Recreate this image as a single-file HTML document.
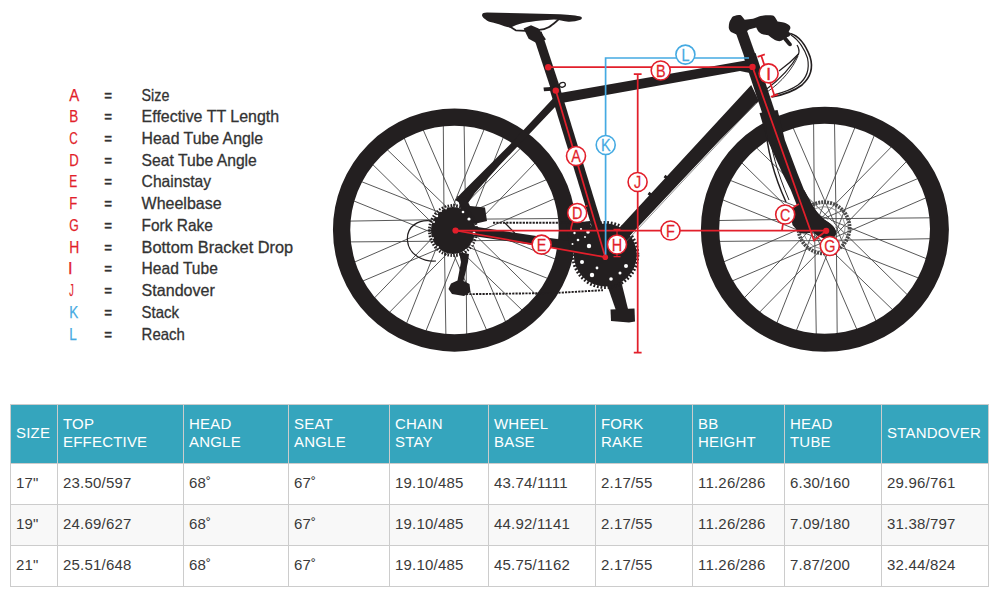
<!DOCTYPE html>
<html lang="en"><head><meta charset="utf-8"><title>Geometry</title>
<style>
html,body{margin:0;padding:0;background:#fff;}
body{width:1002px;height:602px;position:relative;overflow:hidden;font-family:"Liberation Sans",sans-serif;}
table{position:absolute;left:10px;top:404px;width:979px;border-collapse:separate;border-spacing:0;table-layout:fixed;
 border-left:1px solid #ccc;border-top:1px solid #ccc;font-size:15px;line-height:18px;color:#3a3a3a;letter-spacing:0.2px;}
th,td{box-sizing:border-box;border-right:1px solid #ccc;border-bottom:1px solid #ccc;padding:10px 5px 12px 5px;text-align:left;vertical-align:middle;font-weight:normal;white-space:nowrap;overflow:hidden;}
th{background:#35a5bd;color:#fff;}
tr:nth-child(2) td{background:#f8f8f8;}
</style></head><body>
<svg width="1002" height="396" viewBox="0 0 1002 396" style="position:absolute;left:0;top:0" font-family="'Liberation Sans', sans-serif">
<g id="legend">
<text x="69.2" y="100.50" fill="#e21f2b" stroke="#e21f2b" stroke-width="0.25" font-size="16.5" textLength="10" lengthAdjust="spacingAndGlyphs">A</text>
<text x="104.3" y="100.50" fill="#333333" stroke="#333333" stroke-width="0.4" font-size="16.5" textLength="7.8" lengthAdjust="spacingAndGlyphs">=</text>
<text x="141.6" y="100.50" fill="#333333" stroke="#333333" stroke-width="0.3" font-size="16.5" textLength="27.75" lengthAdjust="spacingAndGlyphs">Size</text>
<text x="69.2" y="122.24" fill="#e21f2b" stroke="#e21f2b" stroke-width="0.25" font-size="16.5" textLength="9" lengthAdjust="spacingAndGlyphs">B</text>
<text x="104.3" y="122.24" fill="#333333" stroke="#333333" stroke-width="0.4" font-size="16.5" textLength="7.8" lengthAdjust="spacingAndGlyphs">=</text>
<text x="141.6" y="122.24" fill="#333333" stroke="#333333" stroke-width="0.3" font-size="16.5" textLength="137.5" lengthAdjust="spacingAndGlyphs">Effective TT Length</text>
<text x="69.2" y="143.98" fill="#e21f2b" stroke="#e21f2b" stroke-width="0.25" font-size="16.5" textLength="8.5" lengthAdjust="spacingAndGlyphs">C</text>
<text x="104.3" y="143.98" fill="#333333" stroke="#333333" stroke-width="0.4" font-size="16.5" textLength="7.8" lengthAdjust="spacingAndGlyphs">=</text>
<text x="141.6" y="143.98" fill="#333333" stroke="#333333" stroke-width="0.3" font-size="16.5" textLength="121.5" lengthAdjust="spacingAndGlyphs">Head Tube Angle</text>
<text x="69.2" y="165.72" fill="#e21f2b" stroke="#e21f2b" stroke-width="0.25" font-size="16.5" textLength="9.5" lengthAdjust="spacingAndGlyphs">D</text>
<text x="104.3" y="165.72" fill="#333333" stroke="#333333" stroke-width="0.4" font-size="16.5" textLength="7.8" lengthAdjust="spacingAndGlyphs">=</text>
<text x="141.6" y="165.72" fill="#333333" stroke="#333333" stroke-width="0.3" font-size="16.5" textLength="115.25" lengthAdjust="spacingAndGlyphs">Seat Tube Angle</text>
<text x="69.2" y="187.46" fill="#e21f2b" stroke="#e21f2b" stroke-width="0.25" font-size="16.5" textLength="8" lengthAdjust="spacingAndGlyphs">E</text>
<text x="104.3" y="187.46" fill="#333333" stroke="#333333" stroke-width="0.4" font-size="16.5" textLength="7.8" lengthAdjust="spacingAndGlyphs">=</text>
<text x="141.6" y="187.46" fill="#333333" stroke="#333333" stroke-width="0.3" font-size="16.5" textLength="69.5" lengthAdjust="spacingAndGlyphs">Chainstay</text>
<text x="69.2" y="209.20" fill="#e21f2b" stroke="#e21f2b" stroke-width="0.25" font-size="16.5" textLength="8" lengthAdjust="spacingAndGlyphs">F</text>
<text x="104.3" y="209.20" fill="#333333" stroke="#333333" stroke-width="0.4" font-size="16.5" textLength="7.8" lengthAdjust="spacingAndGlyphs">=</text>
<text x="141.6" y="209.20" fill="#333333" stroke="#333333" stroke-width="0.3" font-size="16.5" textLength="80" lengthAdjust="spacingAndGlyphs">Wheelbase</text>
<text x="69.2" y="230.94" fill="#e21f2b" stroke="#e21f2b" stroke-width="0.25" font-size="16.5" textLength="9.5" lengthAdjust="spacingAndGlyphs">G</text>
<text x="104.3" y="230.94" fill="#333333" stroke="#333333" stroke-width="0.4" font-size="16.5" textLength="7.8" lengthAdjust="spacingAndGlyphs">=</text>
<text x="141.6" y="230.94" fill="#333333" stroke="#333333" stroke-width="0.3" font-size="16.5" textLength="71.25" lengthAdjust="spacingAndGlyphs">Fork Rake</text>
<text x="69.2" y="252.68" fill="#e21f2b" stroke="#e21f2b" stroke-width="0.25" font-size="16.5" textLength="10" lengthAdjust="spacingAndGlyphs">H</text>
<text x="104.3" y="252.68" fill="#333333" stroke="#333333" stroke-width="0.4" font-size="16.5" textLength="7.8" lengthAdjust="spacingAndGlyphs">=</text>
<text x="141.6" y="252.68" fill="#333333" stroke="#333333" stroke-width="0.3" font-size="16.5" textLength="151.5" lengthAdjust="spacingAndGlyphs">Bottom Bracket Drop</text>
<text x="67.9" y="274.42" fill="#e21f2b" stroke="#e21f2b" stroke-width="0.25" font-size="16.5">I</text>
<text x="104.3" y="274.42" fill="#333333" stroke="#333333" stroke-width="0.4" font-size="16.5" textLength="7.8" lengthAdjust="spacingAndGlyphs">=</text>
<text x="141.6" y="274.42" fill="#333333" stroke="#333333" stroke-width="0.3" font-size="16.5" textLength="76.25" lengthAdjust="spacingAndGlyphs">Head Tube</text>
<text x="69.2" y="296.16" fill="#e21f2b" stroke="#e21f2b" stroke-width="0.25" font-size="16.5" textLength="4.5" lengthAdjust="spacingAndGlyphs">J</text>
<text x="104.3" y="296.16" fill="#333333" stroke="#333333" stroke-width="0.4" font-size="16.5" textLength="7.8" lengthAdjust="spacingAndGlyphs">=</text>
<text x="141.6" y="296.16" fill="#333333" stroke="#333333" stroke-width="0.3" font-size="16.5" textLength="73.25" lengthAdjust="spacingAndGlyphs">Standover</text>
<text x="69.2" y="317.90" fill="#45aae2" stroke="#45aae2" stroke-width="0.25" font-size="16.5" textLength="9" lengthAdjust="spacingAndGlyphs">K</text>
<text x="104.3" y="317.90" fill="#333333" stroke="#333333" stroke-width="0.4" font-size="16.5" textLength="7.8" lengthAdjust="spacingAndGlyphs">=</text>
<text x="141.6" y="317.90" fill="#333333" stroke="#333333" stroke-width="0.3" font-size="16.5" textLength="37.5" lengthAdjust="spacingAndGlyphs">Stack</text>
<text x="69.2" y="339.64" fill="#45aae2" stroke="#45aae2" stroke-width="0.25" font-size="16.5" textLength="7.5" lengthAdjust="spacingAndGlyphs">L</text>
<text x="104.3" y="339.64" fill="#333333" stroke="#333333" stroke-width="0.4" font-size="16.5" textLength="7.8" lengthAdjust="spacingAndGlyphs">=</text>
<text x="141.6" y="339.64" fill="#333333" stroke="#333333" stroke-width="0.3" font-size="16.5" textLength="43.25" lengthAdjust="spacingAndGlyphs">Reach</text>
</g>
<g id="spokes" fill="none" stroke="#454545" stroke-width="0.9">
<path d="M456.9 241.0L560.6 239.3M460.7 220.8L556.8 259.7M452.6 240.9L549.1 279.0M463.9 223.7L537.8 296.4M448.7 239.2L523.3 311.3M465.7 227.6L506.1 323.0M445.7 236.1L487.1 331.2M465.9 231.9L466.7 335.5M444.2 232.1L445.9 335.8M464.4 235.9L425.5 332.0M444.3 227.8L406.2 324.3M461.5 239.1L388.8 313.0M446.0 223.9L373.9 298.5M457.6 240.9L362.2 281.3M449.1 220.9L354.0 262.3M453.3 241.1L349.7 241.9M453.1 219.4L349.4 221.1M449.3 239.6L353.2 200.7M457.4 219.5L360.9 181.4M446.1 236.7L372.2 164.0M461.3 221.2L386.7 149.1M444.3 232.8L403.9 137.4M464.3 224.3L422.9 129.2M444.1 228.5L443.3 124.9M465.8 228.3L464.1 124.6M445.6 224.5L484.5 128.4M465.7 232.6L503.8 136.1M448.5 221.3L521.2 147.4M464.0 236.5L536.1 161.9M452.4 219.5L547.8 179.1M460.9 239.5L556.0 198.1M456.7 219.3L560.3 218.5"/>
<path d="M827.3 240.4L932.0 238.7M831.1 220.2L928.2 259.4M823.0 240.3L920.4 278.8M834.3 223.1L909.0 296.4M819.1 238.6L894.3 311.4M836.1 227.0L877.0 323.3M816.1 235.5L857.8 331.6M836.3 231.3L837.2 335.9M814.6 231.5L816.3 336.2M834.8 235.3L795.6 332.4M814.7 227.2L776.2 324.6M831.9 238.5L758.6 313.2M816.4 223.3L743.6 298.5M828.0 240.3L731.7 281.2M819.5 220.3L723.4 262.0M823.7 240.5L719.1 241.4M823.5 218.8L718.8 220.5M819.7 239.0L722.6 199.8M827.8 218.9L730.4 180.4M816.5 236.1L741.8 162.8M831.7 220.6L756.5 147.8M814.7 232.2L773.8 135.9M834.7 223.7L793.0 127.6M814.5 227.9L813.6 123.3M836.2 227.7L834.5 123.0M816.0 223.9L855.2 126.8M836.1 232.0L874.6 134.6M818.9 220.7L892.2 146.0M834.4 235.9L907.2 160.7M822.8 218.9L919.1 178.0M831.3 238.9L927.4 197.2M827.1 218.7L931.7 217.8"/>
</g>
<g id="wheels" fill="none" stroke="#231f20">
<circle cx="454.5" cy="230.1" r="112.9" stroke-width="17.3"/>
<path fill="#231f20" stroke="none" fill-rule="evenodd" d="M700.9 229.35A124 122.4 0 1 0 948.9 229.35A124 122.4 0 1 0 700.9 229.35ZM719.2 228.8A105.4 104.9 0 1 0 930 228.8A105.4 104.9 0 1 0 719.2 228.8Z"/>
</g>

<g id="frame" stroke="#231f20" fill="none" stroke-linecap="butt">
<!-- chain stays -->
<path d="M462 229.5L601 250.5" stroke-width="9.5"/>
<!-- seatpost + seat tube -->
<path d="M537.2 33L556 90" stroke-width="9.2"/>
<path d="M554 86L606.5 257" stroke-width="10.4"/>
<!-- head tube, steerer -->
<path d="M749.6 55L768.8 113" stroke-width="12.6"/>
<path d="M737.9 22L750.7 58" stroke-width="11.2"/>
</g>
<g id="solid" fill="#231f20" stroke="none">
<!-- seat stays -->
<path d="M553 98.5L509.8 144.7L461.2 193.2L455 200L466 206L474.7 193.2L500 164.8L556 106Z"/>
<!-- top tube -->
<path d="M557 93.5L750 59.8L753 73.5L746 72.3L740 70.9L563 102.8Z"/>
<!-- down tube -->
<path d="M598.8 250L751.2 85L759 101L720 140L616.4 250Z"/>
<path d="M663.6 177.2L665.4 174.8L668.2 177L666.4 179.4Z M647.6 194.2L649.4 191.8L652.2 194L650.4 196.4Z"/>
<!-- fork -->
<path d="M759.5 113L777.6 110L784.9 140L797.4 173.2L804 189.8L813.2 206.4C818 214 823 219 828 222C834 226 837.5 231 835.5 235C832.5 239.5 824 239 818 236C812 232 808 226 806 222L797.4 206.4L790.7 189.8L782.4 173.2L767.5 140Z"/>
<!-- saddle -->
<path d="M482 15.2C482.2 13.2 484 12.6 487 12.6L520 13.2L560 14.2C570 14.6 577 15.4 581 16.8C582.4 17.6 582 19.2 580.4 19.8C577 21 572 22 568.4 21.8C564 21 558 19.4 554 19.4C549 19.6 545 20.2 541 20.6C534 21.4 528 22 523 23C518 24.2 514 26 511 27.4C507 27.6 503 25.6 499 24.2C495 23 492 22.6 489.4 21.8C486 20 482.4 17.6 482 15.2Z"/>
<!-- seatpost clamp -->
<path d="M523.6 28.6L531 25.3L538.6 28.4L546 39.5L536.5 43L528.6 38.8Z"/>
<!-- seat QR -->
<path d="M543.5 87.6L560 86.6L560.4 90.2L544 91.2Z"/>
<!-- stem + bar + levers -->
<path d="M728.8 28C728.6 24 729.6 21 731 19.3C732 17 733 16.2 734.3 16C736.5 15 738.5 14.9 740.3 15.1C741.6 15.6 742 16.4 742.5 17.1L744.7 19.8L753 18.7C756 17.6 758.4 16.6 760.6 16C765 15.2 769 15.1 772.7 15.4C774 15.8 774.5 16.4 774.9 17.1L777.6 21.5C780 21.8 782 22 783.7 22.6C786 23.4 788 24.2 789.2 25.3C790.4 26.4 790.6 27.6 790.3 28.6L788.6 31.9C790 32.6 791 33.4 791.4 34.1L789 36.5L786.6 37.2L791.6 43.6C792.4 45 791.4 46.4 790 46.2C788.6 46 788 45.4 787.4 44.6L783.2 39.6C782 40.8 780.6 41.2 779.3 41.2C777.6 41.1 776.2 40.7 774.9 40.1C772.4 38.6 770.4 36.8 768.3 35.2C766 34.6 763.8 34.6 761.7 34.1C760 33.2 758.8 32 757.9 30.8L756.2 27.5L749 29.6L746.5 31.5L736.5 34.6L731 31.9C729.8 30.8 729 29.4 728.8 28Z"/>
<!-- crank + pedal -->
<path d="M597 256L613.5 250L628 309L616.5 312Z"/>
<path d="M566 224L590 221L592 250L570 250Z"/>
<path d="M610.5 309.5L634.5 308.5L635 321.5L629 322.6L611 321Z"/>
<!-- chainrings -->
<circle cx="605.3" cy="255" r="31.5"/>
<!-- cassette -->
<ellipse cx="453" cy="230.5" rx="22" ry="23.5"/>
<!-- rear caliper / dropout -->
<path d="M457 196L466 198L470 206L485 207.5L487 221L474 224L462 214Z"/>
<!-- derailleur -->
<path d="M459 252L469 254L468 262L463.5 281L469.5 284L470.5 292L464 296L452 294L448.5 289L451 283.5L457.5 280.5L461 262Z"/>
</g>
<g id="rails" fill="none" stroke="#231f20" stroke-width="1.7" stroke-linejoin="round">
<path d="M509 26L515.7 30.3L526 30.9"/>
<path d="M539 29.9C548 29.4 552 25 558.5 19.6"/>
<ellipse cx="562.4" cy="84.8" rx="3" ry="2.3" stroke-width="1.3" transform="rotate(-15 562.4 84.8)"/>
</g>
<g id="teeth" fill="none" stroke="#231f20">
<circle cx="605.3" cy="255" r="32.5" stroke-width="3" stroke-dasharray="1.8 1.8"/>
<ellipse cx="453" cy="230.5" rx="23.5" ry="25" stroke-width="3" stroke-dasharray="1.5 1.5"/>
<path d="M493 222.7L596 222.7" stroke-width="1.9" stroke-dasharray="2.2 1.1"/>
<path d="M466 294.2L555 293L603 290.2" stroke-width="1.9" stroke-dasharray="2.2 1.1"/>
<!-- rotor -->
<circle cx="824" cy="227.8" r="25.6" stroke="#4a4a4a" stroke-width="3.8" stroke-dasharray="2 1"/>
<circle cx="824" cy="227.8" r="21" stroke="#777" stroke-width="0.8"/>
</g>
<g fill="#231f20"><!-- front caliper + fork tip over rotor -->
<path d="M789.5 210L800 203.5L808 206L814 224L810 233L800 233.5L792.5 225Z"/>
<path d="M804 189.8L813.2 206.4C818 214 823 219 828 222C834 226 837.5 231 835.5 235C832.5 239.5 824 239 818 236C812 232 808 226 806 222L797.4 206.4Z"/></g>
<g id="holes" fill="#fff">
<circle cx="589" cy="246" r="2.2"/><circle cx="582" cy="262" r="2"/><circle cx="592" cy="275" r="2.2"/>
<circle cx="611" cy="279" r="1.8"/><circle cx="626" cy="266" r="2"/><circle cx="588" cy="232" r="1.8"/>
<circle cx="578" cy="240" r="1.3"/><circle cx="574.5" cy="233" r="1.2"/><circle cx="581" cy="229" r="1.1"/><circle cx="585" cy="237" r="1"/><circle cx="572.5" cy="244" r="1"/><circle cx="597" cy="268" r="1.4"/><circle cx="620" cy="273" r="1.5"/>
<circle cx="469" cy="219" r="1.6"/><circle cx="463" cy="212" r="1.3"/><circle cx="474" cy="233" r="1.5"/>
<circle cx="437" cy="216" r="1.2"/><circle cx="441" cy="211" r="1"/><circle cx="446" cy="208.5" r="0.9"/><circle cx="434" cy="222" r="1"/><circle cx="433" cy="238" r="0.9"/><circle cx="438" cy="247" r="1"/><circle cx="466" cy="250" r="1.1"/><circle cx="472" cy="244" r="1.4"/>
</g>
<g id="cables" fill="none" stroke="#231f20" stroke-width="1.25">
<path d="M436 261C425 262 409 256 407.5 241C406 226 419 219 432 221"/>
<path d="M790.5 33.5C799 36 806 46 810 56.6C813.5 68 810 78 802 85C794 91 785 94.5 772 97" stroke-width="1.6"/>
<path d="M791 35C799 40 805 50 807.5 58C810 70 806 79 798 85C791 90 784 92.5 773 95" stroke-width="1.2"/>
<path d="M797 45C799 48 799.5 51 798.5 54C793 60 786 66 779 71"/>
<path d="M798.5 54C792 66 779 80 765.5 90"/>
<path d="M798 56C793 68 782 82 767 92" stroke-width="0.9"/>
<path d="M765 122C767 150 774 176 786 202" stroke-width="1.5"/>
<path d="M768 124C771 150 777 172 789 200" stroke-width="1"/>
<path d="M505 223L514.7 233"/>
<path d="M622 246L756 103" stroke-width="0.7" stroke="#666"/>
</g>


<g id="annot" fill="none" stroke="#e21f2b" stroke-width="1.75">
<path d="M548.2 67.2H752.5"/>
<path d="M555.8 90.6L605.3 257.2"/>
<path d="M752.5 66.9L814 240.5L826.2 230.8"/>
<path d="M455.5 230.5H826.2"/>
<path d="M455.5 230.5L605.3 257.2"/>
<path d="M637.7 74V352.5M633.8 74H641.6M633.8 352.5H641.6"/>
<path d="M761.2 55.6L774.4 95.6M757.6 56.9L764.8 54.4M770.8 96.9L778 94.4"/>
<path d="M617 229.5V256.6M613.5 229.3H620.5M613.5 256.6H620.5" stroke-width="1.2"/>
<path d="M570.9 230.5C571.3 221 578 210 587.5 205.5"/>
<path d="M782 230.5C783 219 789 209 799 204"/>
</g>
<g fill="none" stroke="#45aae2" stroke-width="1.7">
<path d="M605.6 257V58H749"/>
</g>
<g fill="#e21f2b">
<circle cx="548.2" cy="67.3" r="3.2"/><circle cx="555.8" cy="90.6" r="3.2"/><circle cx="752.5" cy="66.9" r="3.2"/>
<circle cx="455.5" cy="230.5" r="3.1"/><circle cx="605.3" cy="257.2" r="2.8"/><circle cx="826.2" cy="230.8" r="3.1"/>
</g>
<g id="markers" font-family="'Liberation Sans', sans-serif">
<circle cx="576" cy="156" r="9.5" fill="#fff" stroke="#e21f2b" stroke-width="1.6"/><text transform="translate(576 162.15) scale(0.84 1)" fill="#e21f2b" stroke="#e21f2b" stroke-width="0.25" font-size="17.2" text-anchor="middle">A</text><circle cx="660.7" cy="70.5" r="9.5" fill="#fff" stroke="#e21f2b" stroke-width="1.6"/><text transform="translate(660.7 76.65) scale(0.84 1)" fill="#e21f2b" stroke="#e21f2b" stroke-width="0.25" font-size="17.2" text-anchor="middle">B</text><circle cx="785.2" cy="214.5" r="9.5" fill="#fff" stroke="#e21f2b" stroke-width="1.6"/><text transform="translate(785.2 220.65) scale(0.84 1)" fill="#e21f2b" stroke="#e21f2b" stroke-width="0.25" font-size="17.2" text-anchor="middle">C</text><circle cx="577.2" cy="213" r="9.5" fill="#fff" stroke="#e21f2b" stroke-width="1.6"/><text transform="translate(577.2 219.15) scale(0.84 1)" fill="#e21f2b" stroke="#e21f2b" stroke-width="0.25" font-size="17.2" text-anchor="middle">D</text>
<circle cx="541.6" cy="244.6" r="9.5" fill="#fff" stroke="#e21f2b" stroke-width="1.6"/><text transform="translate(541.6 250.75) scale(0.84 1)" fill="#e21f2b" stroke="#e21f2b" stroke-width="0.25" font-size="17.2" text-anchor="middle">E</text><circle cx="670.5" cy="230.5" r="9.5" fill="#fff" stroke="#e21f2b" stroke-width="1.6"/><text transform="translate(670.5 236.65) scale(0.84 1)" fill="#e21f2b" stroke="#e21f2b" stroke-width="0.25" font-size="17.2" text-anchor="middle">F</text><circle cx="829.8" cy="246" r="9.5" fill="#fff" stroke="#e21f2b" stroke-width="1.6"/><text transform="translate(829.8 252.15) scale(0.84 1)" fill="#e21f2b" stroke="#e21f2b" stroke-width="0.25" font-size="17.2" text-anchor="middle">G</text><circle cx="617" cy="244.5" r="9.5" fill="#fff" stroke="#e21f2b" stroke-width="1.6"/><text transform="translate(617 250.65) scale(0.84 1)" fill="#e21f2b" stroke="#e21f2b" stroke-width="0.25" font-size="17.2" text-anchor="middle">H</text>
<circle cx="768.6" cy="73.4" r="9.5" fill="#fff" stroke="#e21f2b" stroke-width="1.6"/><text transform="translate(768.6 79.55000000000001) scale(1.0 1)" fill="#e21f2b" stroke="#e21f2b" stroke-width="0.45" font-size="17.2" text-anchor="middle">I</text><circle cx="637.6" cy="182" r="9.5" fill="#fff" stroke="#e21f2b" stroke-width="1.6"/><text transform="translate(637.6 188.15) scale(0.84 1)" fill="#e21f2b" stroke="#e21f2b" stroke-width="0.25" font-size="17.2" text-anchor="middle">J</text><circle cx="605.7" cy="145" r="9.5" fill="#fff" stroke="#45aae2" stroke-width="1.6"/><text transform="translate(605.7 151.15) scale(0.84 1)" fill="#45aae2" stroke="#45aae2" stroke-width="0.25" font-size="17.2" text-anchor="middle">K</text><circle cx="685.4" cy="54.6" r="9.5" fill="#fff" stroke="#45aae2" stroke-width="1.6"/><text transform="translate(685.4 60.75) scale(0.84 1)" fill="#45aae2" stroke="#45aae2" stroke-width="0.25" font-size="17.2" text-anchor="middle">L</text>
</g>

</svg>
<table><col style="width:47px"><col style="width:126px"><col style="width:105px"><col style="width:101px"><col style="width:99px"><col style="width:107px"><col style="width:97px"><col style="width:92px"><col style="width:97px"><col style="width:107px"><thead><tr><th>SIZE</th><th>TOP<br>EFFECTIVE</th><th>HEAD<br>ANGLE</th><th>SEAT<br>ANGLE</th><th>CHAIN<br>STAY</th><th>WHEEL<br>BASE</th><th>FORK<br>RAKE</th><th>BB<br>HEIGHT</th><th>HEAD<br>TUBE</th><th>STANDOVER</th></tr></thead><tbody><tr><td>17&quot;</td><td>23.50/597</td><td>68˚</td><td>67˚</td><td>19.10/485</td><td>43.74/1111</td><td>2.17/55</td><td>11.26/286</td><td>6.30/160</td><td>29.96/761</td></tr><tr><td>19&quot;</td><td>24.69/627</td><td>68˚</td><td>67˚</td><td>19.10/485</td><td>44.92/1141</td><td>2.17/55</td><td>11.26/286</td><td>7.09/180</td><td>31.38/797</td></tr><tr><td>21&quot;</td><td>25.51/648</td><td>68˚</td><td>67˚</td><td>19.10/485</td><td>45.75/1162</td><td>2.17/55</td><td>11.26/286</td><td>7.87/200</td><td>32.44/824</td></tr></tbody></table>
</body></html>
